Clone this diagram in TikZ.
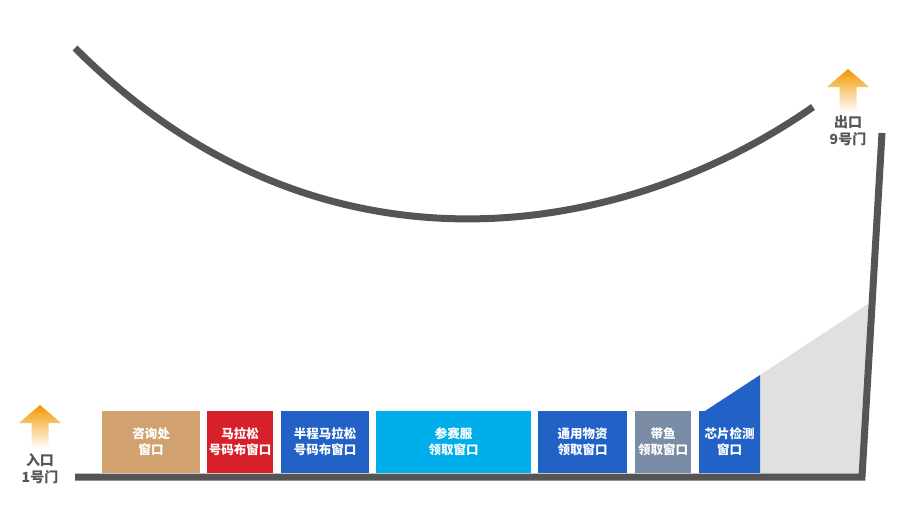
\documentclass[tikz,border=0pt]{standalone}
\usepackage{fontspec}
\setmainfont{Noto Sans CJK SC}
\usetikzlibrary{calc}
\definecolor{road}{HTML}{555555}
\definecolor{gatetext}{HTML}{555555}
\definecolor{arrowtop}{HTML}{F39800}
\definecolor{slope}{HTML}{E0E0E0}
\definecolor{tan}{HTML}{D1A26F}
\definecolor{redwin}{HTML}{D8202B}
\definecolor{bluewin}{HTML}{2261C6}
\definecolor{skywin}{HTML}{00AEEB}
\definecolor{greywin}{HTML}{7B8CA6}
\tikzset{
	win/.style={font=\bfseries\fontsize{12.5}{16}\selectfont, text=white, align=center, inner sep=0pt},
	gate/.style={font=\bfseries\fontsize{14}{17}\selectfont, text=gatetext, align=center, inner sep=0pt},
}
\def\gatearrow(#1,#2){\shade[top color=arrowtop, bottom color=white] (#1,#2) -- ++(21,18) -- ++(-12.5,0) -- ++(0,25) -- ++(-17,0) -- ++(0,-25) -- ++(-12.5,0) -- cycle;}

\begin{document}
\begin{tikzpicture}[x=1pt, y=-1pt]
			%%%%% START %%%%%
			\useasboundingbox (0,0) rectangle (903,509);
			
			% slope behind the chip window
			\fill[slope] (760,375) -- (868,304) -- (862,477) -- (760,477) -- cycle;
			
			% windows
			\fill[tan] (102,411) rectangle (200,473);
			\node[win] (ask) at (151,442) {咨询处\\窗口};
			
			\fill[redwin] (207,411) rectangle (273,473);
			\node[win] (full) at (240,442) {马拉松\\号码布窗口};
			
			\fill[bluewin] (281,411) rectangle (369,473);
			\node[win] (half) at (325,442) {半程马拉松\\号码布窗口};
			
			\fill[skywin] (376,411) rectangle (531,473);
			\node[win] (shirt) at (453.5,442) {参赛服\\领取窗口};
			
			\fill[bluewin] (538,411) rectangle (627,473);
			\node[win] (goods) at (582.5,442) {通用物资\\领取窗口};
			
			\fill[greywin] (635,411) rectangle (691,473);
			\node[win] (fish) at (663,442) {带鱼\\领取窗口};
			
			\fill[bluewin] (699,473) -- (699,411) -- (705,411) -- (760,375) -- (760,473) -- cycle;
			\node[win] (chip) at (729.5,442) {芯片检测\\窗口};
			
			% road
			\draw[road, line width=7pt, line join=miter] (75,477) -- (862,477) -- (882,133);
			\draw[road, line width=7pt] (75,48) .. controls (318,291) and (621,241) .. (813,107);
			
			% gates
			\gatearrow(40,405)
			\node[gate] (entry) at (40,468.5) {入口\\1号门};
			
			\gatearrow(848,69)
			\node[gate] (exit) at (848,131) {出口\\9号门};
			
			%%%%% END %%%%%
\end{tikzpicture}
\end{document}
